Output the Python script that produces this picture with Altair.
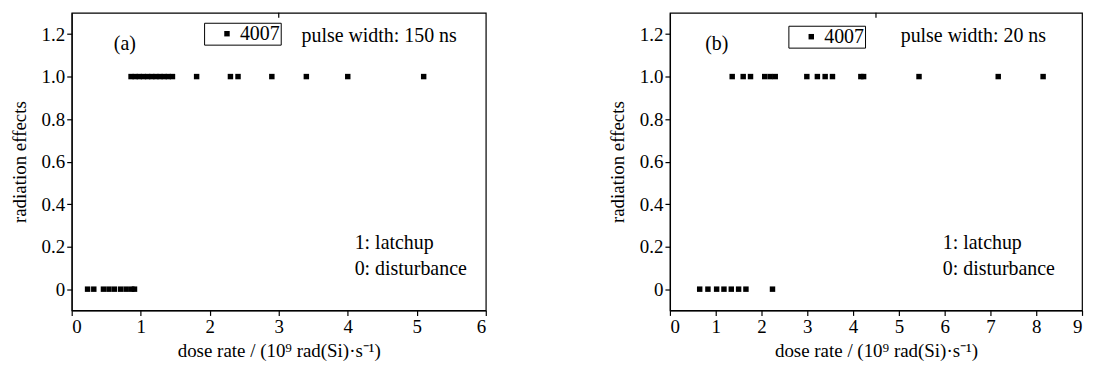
import altair as alt
import pandas as pd

# ---- data ----
a_latch = [0.86, 0.92, 0.98, 1.04, 1.10, 1.16, 1.22, 1.28, 1.34, 1.40, 1.46,
           1.81, 2.30, 2.41, 2.90, 3.40, 4.00, 5.10]
a_dist = [0.23, 0.32, 0.46, 0.54, 0.62, 0.71, 0.79, 0.87, 0.91]
b_latch = [1.36, 1.60, 1.76, 2.07, 2.19, 2.30, 2.99, 3.22, 3.39, 3.55,
           4.17, 4.23, 5.44, 7.17, 8.15]
b_dist = [0.65, 0.83, 1.02, 1.18, 1.34, 1.50, 1.66, 2.24]
device = "4007"

FONT = "Liberation Serif"
X_TITLE = "dose rate / (10\u2079 rad(Si)\u00b7s\u207b\u00b9)"
Y_TITLE = "radiation effects"
y_vals = [0.0, 0.1, 0.2, 0.3, 0.4, 0.5, 0.6, 0.7, 0.8, 0.9, 1.0, 1.1, 1.2]


def panel(latch, dist, xmax, tag, pulse, tag_x, pulse_x, note_x, leg_x, leg_y, width):
    df = pd.DataFrame({
        "dose": latch + dist,
        "effect": [1] * len(latch) + [0] * len(dist),
        "device": device,
    })
    x_vals = [i * 0.5 for i in range(int(xmax * 2) + 1)]
    xs = alt.X(
        "dose:Q",
        scale=alt.Scale(domain=[0, xmax], nice=False, zero=False),
        axis=alt.Axis(
            values=x_vals,
            labelExpr="datum.value % 1 ? '' : format(datum.value, 'd')",
            tickSize={"condition": {"test": "datum.value % 1 != 0", "value": 3}, "value": 5},
            title=X_TITLE, labelPadding=2, titlePadding=5,
        ),
    )
    ys = alt.Y(
        "effect:Q",
        scale=alt.Scale(domain=[-0.1, 1.3], nice=False, zero=False),
        axis=alt.Axis(
            values=y_vals,
            labelExpr="(round(datum.value*10) % 2) ? '' : (datum.value == 0 ? '0' : format(datum.value, '.1f'))",
            tickSize={"condition": {"test": "round(datum.value*10) % 2 == 1", "value": 3}, "value": 5},
            title=Y_TITLE, labelPadding=2, titlePadding=12,
        ),
    )
    pts = alt.Chart(df).mark_square(filled=True, size=30, opacity=1).encode(
        x=xs,
        y=ys,
        color=alt.Color(
            "device:N",
            scale=alt.Scale(range=["black"]),
            legend=alt.Legend(
                orient="none", legendX=leg_x, legendY=leg_y, title=None,
                strokeColor="black", padding=1, symbolType="square",
                symbolSize=30, symbolOffset=12, labelFont=FONT, labelFontSize=20,
                symbolStrokeWidth=0, labelOffset=3,
                labelExpr="datum.label + '\u2004'",
            ),
        ),
    )
    ann = pd.DataFrame({
        "x": [tag_x, pulse_x, note_x, note_x],
        "y": [1.155, 1.19, 0.215, 0.097],
        "t": [tag, pulse, "1: latchup", "0: disturbance"],
    })
    txt = alt.Chart(ann).mark_text(
        align="left", baseline="middle", font=FONT, fontSize=20, color="black"
    ).encode(x="x:Q", y="y:Q", text="t:N")
    top_tick = alt.Chart(pd.DataFrame({"m": [xmax / 2]})).mark_rule(
        color="black", strokeWidth=1.2
    ).encode(x="m:Q", y=alt.value(0), y2=alt.value(5))
    return alt.layer(pts, txt, top_tick).properties(width=width, height=299)


pa = panel(a_latch, a_dist, 6, "(a)", "pulse width: 150 ns", 0.61, 3.33, 4.10, 133, 10, 416)
pb = panel(b_latch, b_dist, 9, "(b)", "pulse width: 20 ns", 0.77, 5.04, 5.96, 119, 13, 414)

chart = alt.hconcat(pa, pb, spacing=120).resolve_scale(color="independent").properties(
    padding={"left": 1, "top": 2, "right": 2, "bottom": 0}
).configure_view(stroke="black", strokeWidth=1.2).configure_axis(
    labelFont=FONT, titleFont=FONT, labelFontSize=19, titleFontSize=19,
    titleFontWeight="normal", labelColor="black", titleColor="black",
    domainColor="black", tickColor="black", grid=False, domainWidth=1.2,
    tickWidth=1.2, labelOverlap=False,
)

chart.save("out.html", embed_options={"renderer": "svg", "actions": False})
